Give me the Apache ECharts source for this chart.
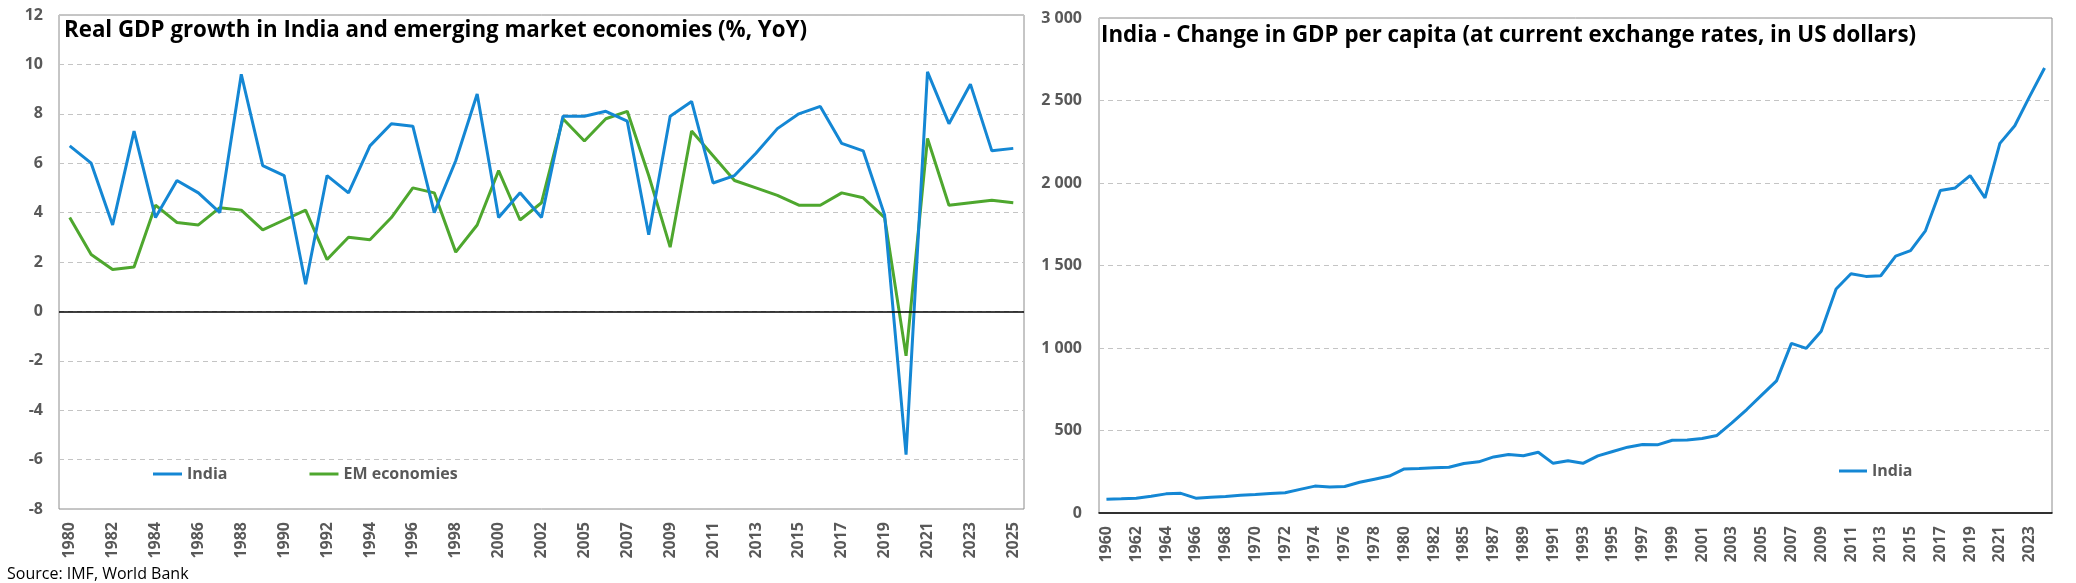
<!DOCTYPE html>
<html>
<head>
<meta charset="utf-8">
<script src="https://cdn.jsdelivr.net/npm/echarts@6/dist/echarts.min.js"></script>
<style>
  html, body { margin: 0; padding: 0; background: #fff; }
  #main { width: 2076px; height: 583px; }
</style>
</head>
<body>
<div id="main"></div>
<script>
  // left chart: real GDP growth (%, YoY) - 2003 not in source categories
  const growthYears = [
    '1980', '1981', '1982', '1983', '1984', '1985', '1986', '1987', '1988', '1989',
    '1990', '1991', '1992', '1993', '1994', '1995', '1996', '1997', '1998', '1999',
    '2000', '2001', '2002', '2004', '2005', '2006', '2007', '2008', '2009',
    '2010', '2011', '2012', '2013', '2014', '2015', '2016', '2017', '2018', '2019',
    '2020', '2021', '2022', '2023', '2024', '2025'
  ]
  const indiaGrowth = [
    6.7, 6.0, 3.5, 7.3, 3.8, 5.3, 4.8, 4.0, 9.6, 5.9,
    5.5, 1.1, 5.5, 4.8, 6.7, 7.6, 7.5, 4.0, 6.1, 8.8,
    3.8, 4.8, 3.8, 7.9, 7.9, 8.1, 7.7, 3.1, 7.9,
    8.5, 5.2, 5.5, 6.4, 7.4, 8.0, 8.3, 6.8, 6.5, 3.9,
    -5.8, 9.7, 7.6, 9.2, 6.5, 6.6
  ]
  const emGrowth = [
    3.8, 2.3, 1.7, 1.8, 4.3, 3.6, 3.5, 4.2, 4.1, 3.3,
    3.7, 4.1, 2.1, 3.0, 2.9, 3.8, 5.0, 4.8, 2.4, 3.5,
    5.7, 3.7, 4.4, 7.8, 6.9, 7.8, 8.1, 5.5, 2.6,
    7.3, 6.3, 5.3, 5.0, 4.7, 4.3, 4.3, 4.8, 4.6, 3.8,
    -1.8, 7.0, 4.3, 4.4, 4.5, 4.4
  ]

  // right chart: GDP per capita, US dollars - 1983 not in source categories
  const pcYears = [
    '1960', '1961', '1962', '1963', '1964', '1965', '1966', '1967', '1968', '1969',
    '1970', '1971', '1972', '1973', '1974', '1975', '1976', '1977', '1978', '1979',
    '1980', '1981', '1982', '1984', '1985', '1986', '1987', '1988', '1989',
    '1990', '1991', '1992', '1993', '1994', '1995', '1996', '1997', '1998', '1999',
    '2000', '2001', '2002', '2003', '2004', '2005', '2006', '2007', '2008', '2009',
    '2010', '2011', '2012', '2013', '2014', '2015', '2016', '2017', '2018', '2019',
    '2020', '2021', '2022', '2023', '2024'
  ]
  const indiaPerCapita = [
    83, 86, 90, 101, 116, 119, 90, 96, 100, 107,
    112, 118, 123, 143, 163, 158, 161, 186, 205, 224,
    267, 270, 274, 277, 300, 310, 340, 355, 347,
    368, 301, 317, 301, 346, 373, 399, 415, 413, 441,
    443, 451, 470, 546, 627, 714, 801, 1028, 998, 1101,
    1358, 1450, 1434, 1438, 1557, 1590, 1710, 1955, 1970, 2045,
    1910, 2240, 2347, 2525, 2697
  ]

  const blue = '#1487D4'
  const green = '#4EA72E'
  const grey = '#595959'
  const font = 'Open Sans'

  const spaced = v => String(v).replace(/\B(?=(\d{3})+(?!\d))/g, ' ')

  const labelStyle = { color: grey, fontFamily: font, fontWeight: 'bold', fontSize: 16 }

  const chart = echarts.init(document.getElementById('main'))
  chart.setOption({
    animation: false,
    textStyle: { fontFamily: font },
    title: [
      {
        text: 'Real GDP growth in India and emerging market economies (%, YoY)',
        left: 64, top: 20, padding: 0,
        textStyle: { fontFamily: font, fontWeight: 'bold', fontSize: 22.3, color: '#000' }
      },
      {
        text: 'India - Change in GDP per capita (at current exchange rates, in US dollars)',
        left: 1101, top: 25, padding: 0,
        textStyle: { fontFamily: font, fontWeight: 'bold', fontSize: 22.3, color: '#000' }
      }
    ],
    legend: [
      {
        data: ['India', 'EM economies'],
        left: 153, top: 466, padding: 0,
        itemWidth: 29, itemHeight: 3, itemGap: 82, icon: 'rect',
        textStyle: labelStyle
      },
      {
        data: ['India '],
        left: 1839, top: 463, padding: 0,
        itemWidth: 28, itemHeight: 3, icon: 'rect',
        textStyle: labelStyle
      }
    ],
    grid: [
      { left: 59, top: 15, width: 965, height: 494, show: true, borderColor: '#8c8c8c', borderWidth: 1 },
      { left: 1099, top: 18, width: 953, height: 495, show: true, borderColor: '#8c8c8c', borderWidth: 1 }
    ],
    xAxis: [
      {
        gridIndex: 0, type: 'category', data: growthYears, boundaryGap: true,
        axisLine: { show: false }, axisTick: { show: false },
        axisLabel: Object.assign({ rotate: 90, interval: 1, margin: 13 }, labelStyle)
      },
      {
        gridIndex: 1, type: 'category', data: pcYears, boundaryGap: true,
        axisLine: { show: true, lineStyle: { color: '#000', width: 1.5 } }, axisTick: { show: false },
        axisLabel: Object.assign({ rotate: 90, interval: 1, margin: 13 }, labelStyle)
      }
    ],
    yAxis: [
      {
        gridIndex: 0, type: 'value', min: -8, max: 12, interval: 2,
        axisLine: { show: false }, axisTick: { show: false },
        splitLine: { lineStyle: { color: '#c4c4c4', type: [5, 4] } },
        axisLabel: Object.assign({ margin: 16 }, labelStyle)
      },
      {
        gridIndex: 1, type: 'value', min: 0, max: 3000, interval: 500,
        axisLine: { show: false }, axisTick: { show: false },
        splitLine: { lineStyle: { color: '#c4c4c4', type: [5, 4] } },
        axisLabel: Object.assign({ margin: 17, formatter: spaced }, labelStyle)
      }
    ],
    series: [
      {
        name: 'India', type: 'line', xAxisIndex: 0, yAxisIndex: 0,
        data: indiaGrowth, showSymbol: false, color: blue,
        lineStyle: { width: 3, color: blue },
        markLine: {
          silent: true, symbol: 'none', label: { show: false },
          lineStyle: { color: '#000', type: 'solid', width: 1.5 },
          data: [{ yAxis: 0 }]
        },
        z: 3
      },
      {
        name: 'EM economies', type: 'line', xAxisIndex: 0, yAxisIndex: 0,
        data: emGrowth, showSymbol: false, color: green,
        lineStyle: { width: 3, color: green },
        z: 2
      },
      {
        name: 'India ', type: 'line', xAxisIndex: 1, yAxisIndex: 1,
        data: indiaPerCapita, showSymbol: false, color: blue,
        lineStyle: { width: 3, color: blue }
      }
    ],
    graphic: [
      {
        type: 'text', left: 7, top: 566,
        style: { text: 'Source: IMF, World Bank', fill: '#000', font: '16px "Open Sans"' }
      }
    ]
  })
</script>
</body>
</html>
